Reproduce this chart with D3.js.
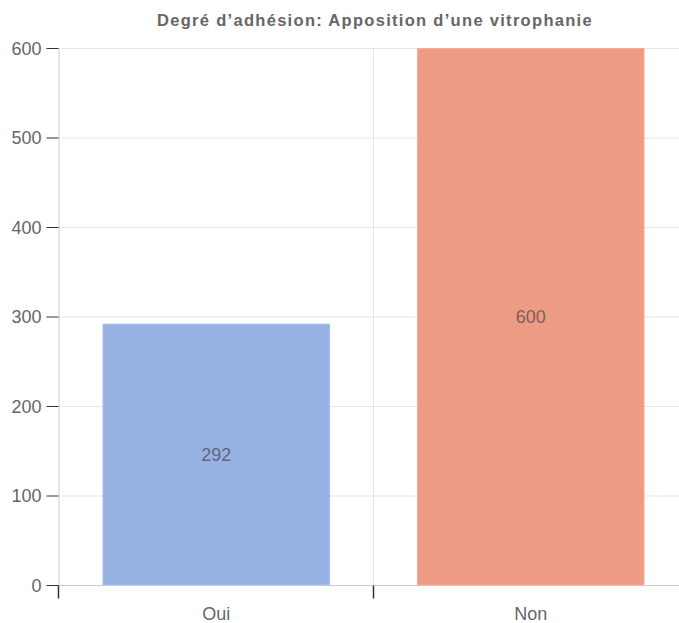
<!DOCTYPE html>
<html><head><meta charset="utf-8">
<script src="https://cdn.jsdelivr.net/npm/d3@7"></script>
<style>body{margin:0;background:#fff;overflow:hidden}svg{display:block}text{font-family:"Liberation Sans",Arial,sans-serif}</style>
</head><body><svg id="c" width="679" height="623"></svg>
<script>
const categories = ["Oui", "Non"];
const values = [292, 600];
const colors = ["#98b1e4", "#ed9b85"];
const yTicks = [0, 100, 200, 300, 400, 500, 600];
const title = "Degré d’adhésion: Apposition d’une vitrophanie";

const svg = d3.select("#c");
const L = 59, R = 688, T = 48, B = 585;
const x = d3.scaleBand().domain(categories).range([L, R]).paddingInner(0).paddingOuter(0);
const y = d3.scaleLinear().domain([0, 600]).range([B, T]);

// gridlines
svg.append("g").selectAll("line").data(yTicks).join("line")
  .attr("x1", L).attr("x2", R).attr("y1", d => y(d) + 0.5).attr("y2", d => y(d) + 0.5)
  .attr("stroke", "#e6e6e6").attr("stroke-width", 1);
svg.append("g").selectAll("line").data(categories.slice(1)).join("line")
  .attr("x1", d => Math.round(x(d)) - 0.5).attr("x2", d => Math.round(x(d)) - 0.5).attr("y1", T).attr("y2", B)
  .attr("stroke", "#e6e6e6").attr("stroke-width", 1);

// bars
const inner = 43.5;
svg.append("g").selectAll("rect").data(categories).join("rect")
  .attr("x", d => x(d) + inner + 0.5)
  .attr("width", x.bandwidth() - 2 * inner - 1)
  .attr("y", (d, i) => y(values[i]) + 0.5)
  .attr("height", (d, i) => B - y(values[i]) - 0.5)
  .attr("fill", (d, i) => colors[i])
  .attr("stroke", (d, i) => d3.color(colors[i]).brighter(0.2))
  .attr("stroke-width", 1);

// value labels
svg.append("g").selectAll("text").data(categories).join("text")
  .attr("x", d => x(d) + x.bandwidth() / 2)
  .attr("y", (d, i) => (y(values[i]) + B) / 2 + 6.3)
  .attr("text-anchor", "middle")
  .attr("font-size", 18).attr("fill", "#444").attr("fill-opacity", 0.7)
  .text((d, i) => values[i]);

// y axis
const ya = svg.append("g").attr("transform", `translate(${L - 0.5},0)`)
  .call(d3.axisLeft(y).tickValues(yTicks).tickSize(12).tickPadding(5));
ya.select(".domain").attr("stroke", "#ccc");
ya.selectAll(".tick line").attr("stroke", "#333");
ya.selectAll(".tick text").attr("font-size", 18).attr("fill", "#666")
  .attr("font-family", "Liberation Sans, Arial, sans-serif").attr("dy", "0.35em");

// x axis
const xa = svg.append("g").attr("transform", `translate(0,${B + 0.5})`);
xa.append("line").attr("x1", L).attr("x2", R).attr("stroke", "#ccc");
xa.selectAll("line.t").data(categories).join("line").attr("class", "t")
  .attr("x1", d => Math.round(x(d)) - 0.5).attr("x2", d => Math.round(x(d)) - 0.5).attr("y1", 0).attr("y2", 13)
  .attr("stroke", "#333").attr("stroke-width", 1.5);
xa.selectAll("text").data(categories).join("text")
  .attr("x", d => x(d) + x.bandwidth() / 2).attr("y", 34.5)
  .attr("text-anchor", "middle").attr("font-size", 18).attr("fill", "#666")
  .text(d => d);

// title
svg.append("text").attr("x", 375).attr("y", 25.5)
  .attr("text-anchor", "middle").attr("font-size", 16.5).attr("font-weight", "bold")
  .attr("letter-spacing", 1.3)
  .attr("fill", "#666").text(title);
</script></body></html>
